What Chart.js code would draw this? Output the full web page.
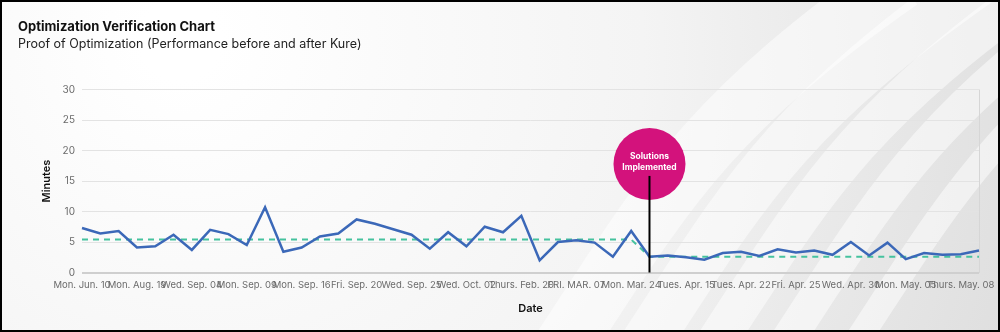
<!DOCTYPE html>
<html lang="en">
<head>
    <meta charset="UTF-8">
    <title>Optimization Verification Chart</title>
    <script src="https://cdn.jsdelivr.net/npm/chart.js"></script>
    <style>
        body {
            margin: 0;
            background-color: #ffffff;
        }
        #chartBox {
            width: 1000px;
            height: 332px;
        }
    </style>
</head>
<body>
<div id="chartBox">
    <canvas id="verificationChart" width="1000" height="332"></canvas>
</div>
<script>
    // Dates of each measurement (only every third one is shown on the axis)
    const dateLabels = [
        'Mon. Jun. 10', 'Mon. Jul. 08', 'Mon. Aug. 05',
        'Mon. Aug. 19', 'Mon. Aug. 26', 'Fri. Aug. 30',
        'Wed. Sep. 04', 'Thurs. Sep. 05', 'Fri. Sep. 06',
        'Mon. Sep. 09', 'Wed. Sep. 11', 'Fri. Sep. 13',
        'Mon. Sep. 16', 'Tues. Sep. 17', 'Wed. Sep. 18',
        'Fri. Sep. 20', 'Mon. Sep. 23', 'Tues. Sep. 24',
        'Wed. Sep. 25', 'Thurs. Sep. 26', 'Mon. Sep. 30',
        'Wed. Oct. 02', 'Thurs. Oct. 03', 'Mon. Feb. 17',
        'Thurs. Feb. 20', 'Tues. Feb. 25', 'Mon. Mar. 03',
        'FRI. MAR. 07', 'Mon. Mar. 10', 'Mon. Mar. 17',
        'Mon. Mar. 24', 'Tues. Apr. 01', 'Thurs. Apr. 10',
        'Tues. Apr. 15', 'Wed. Apr. 16', 'Fri. Apr. 18',
        'Tues. Apr. 22', 'Wed. Apr. 23', 'Thurs. Apr. 24',
        'Fri. Apr. 25', 'Mon. Apr. 28', 'Tues. Apr. 29',
        'Wed. Apr. 30', 'Thurs. May. 01', 'Fri. May. 02',
        'Mon. May. 05', 'Tues. May. 06', 'Wed. May. 07',
        'Thurs. May. 08', 'Fri. May. 09'
    ];

    // Measured minutes
    const minutes = [
        7.3, 6.4, 6.8, 4.1, 4.3, 6.2, 3.7, 7.0, 6.3, 4.5,
        10.7, 3.4, 4.1, 5.9, 6.4, 8.7, 8.0, 7.1, 6.2, 3.9,
        6.6, 4.3, 7.5, 6.6, 9.3, 2.0, 5.0, 5.3, 4.9, 2.6,
        6.8, 2.6, 2.8, 2.5, 2.1, 3.2, 3.4, 2.7, 3.8, 3.3,
        3.6, 2.9, 5.0, 2.8, 4.9, 2.2, 3.2, 2.9, 3.0, 3.6
    ];

    // Average before / after the fix
    const averageMinutes = [
        5.4, 5.4, 5.4, 5.4, 5.4, 5.4, 5.4, 5.4, 5.4, 5.4,
        5.4, 5.4, 5.4, 5.4, 5.4, 5.4, 5.4, 5.4, 5.4, 5.4,
        5.4, 5.4, 5.4, 5.4, 5.4, 5.4, 5.4, 5.4, 5.4, 5.4,
        5.4, 2.6, 2.6, 2.6, 2.6, 2.6, 2.6, 2.6, 2.6, 2.6,
        2.6, 2.6, 2.6, 2.6, 2.6, 2.6, 2.6, 2.6, 2.6, 2.6
    ];

    const yTicks = [0, 5, 10, 15, 20, 25, 30];

    // "Solutions Implemented" marker
    const markerIndex = 31;
    const markerValue = 17.8;
    const markerText = ['Solutions', 'Implemented'];

    Chart.defaults.font.family = "Inter, 'Noto Sans', sans-serif";

    const backgroundPlugin = {
        id: 'backgroundPlugin',
        beforeDraw(chart) {
            const c = chart.ctx;
            const w = chart.width, h = chart.height;
            c.save();
            let g = c.createRadialGradient(180, 40, 40, 260, 80, 900);
            g.addColorStop(0, '#ffffff');
            g.addColorStop(0.45, '#f4f4f4');
            g.addColorStop(1, '#d9d9d9');
            c.fillStyle = g;
            c.fillRect(0, 0, w, h);
            // light swooshes on the right side
            c.strokeStyle = 'rgba(255,255,255,0.5)';
            const swooshes = [[640, 60], [720, 50], [790, 40], [860, 34], [930, 26]];
            for (let s of swooshes) {
                c.lineWidth = s[1];
                c.beginPath();
                c.moveTo(s[0] - 80, h + 20);
                c.bezierCurveTo(s[0] + 20, 200, s[0] + 60, 120, s[0] + 260, -20);
                c.stroke();
            }
            c.restore();
        },
        afterDraw(chart) {
            const c = chart.ctx;
            c.save();
            c.strokeStyle = '#000000';
            c.lineWidth = 2;
            c.strokeRect(1, 1, chart.width - 2, chart.height - 2);
            c.restore();
        }
    };

    const markerPlugin = {
        id: 'markerPlugin',
        afterDatasetsDraw(chart) {
            const c = chart.ctx;
            const x = chart.scales.x.getPixelForValue(markerIndex);
            const cy = chart.scales.y.getPixelForValue(markerValue);
            c.save();
            c.fillStyle = '#d3127c';
            c.beginPath();
            c.arc(x, cy, 36, 0, Math.PI * 2);
            c.fill();
            c.strokeStyle = '#000000';
            c.lineWidth = 2;
            c.beginPath();
            c.moveTo(x, cy + 12);
            c.lineTo(x, chart.chartArea.bottom);
            c.stroke();
            c.fillStyle = '#ffffff';
            c.font = "bold 8.5px Inter, 'Noto Sans', sans-serif";
            c.textAlign = 'center';
            c.textBaseline = 'middle';
            c.fillText(markerText[0], x, cy - 7);
            c.fillText(markerText[1], x, cy + 4);
            c.restore();
        }
    };

    new Chart(document.getElementById('verificationChart'), {
        type: 'line',
        data: {
            labels: dateLabels,
            datasets: [
                {
                    label: 'Minutes',
                    data: minutes,
                    borderColor: '#3b68b8',
                    borderWidth: 2.5,
                    pointRadius: 0,
                    tension: 0
                },
                {
                    label: 'Average',
                    data: averageMinutes,
                    borderColor: '#45c29e',
                    borderWidth: 2,
                    borderDash: [6, 5],
                    pointRadius: 0,
                    tension: 0
                }
            ]
        },
        options: {
            responsive: false,
            animation: false,
            layout: {
                padding: {left: 18, right: 21, top: 0, bottom: 10}
            },
            plugins: {
                legend: {display: false},
                tooltip: {enabled: false},
                title: {
                    display: true,
                    text: 'Optimization Verification Chart',
                    align: 'start',
                    color: '#111111',
                    font: {size: 13, weight: 'bold', lineHeight: 1.2},
                    padding: {top: 19, bottom: 0}
                },
                subtitle: {
                    display: true,
                    text: 'Proof of Optimization (Performance before and after Kure)',
                    align: 'start',
                    color: '#222222',
                    font: {size: 12.5, weight: 'normal', lineHeight: 1.2},
                    padding: {top: 2.4, bottom: 37.5}
                }
            },
            scales: {
                x: {
                    border: {display: false},
                    grid: {
                        drawTicks: false,
                        color: c => c.index === dateLabels.length - 1 ? '#d6d6d6' : 'transparent'
                    },
                    ticks: {
                        autoSkip: false,
                        maxRotation: 0,
                        padding: 7,
                        color: '#6b6b6b',
                        font: {size: 9.5},
                        callback: function (value, index) {
                            return index % 3 === 0 ? this.getLabelForValue(value) : '';
                        }
                    },
                    title: {
                        display: true,
                        text: 'Date',
                        color: '#111111',
                        font: {size: 11, weight: '600'},
                        padding: {bottom: 7}
                    },
                    afterFit: s => { s.height = 49.5; }
                },
                y: {
                    min: 0,
                    max: 30,
                    border: {display: false},
                    grid: {
                        drawTicks: false,
                        color: c => c.tick.value === 0 ? '#cfcfcf' : '#e3e3e3',
                        lineWidth: c => c.tick.value === 0 ? 2 : 1
                    },
                    afterBuildTicks: s => { s.ticks = yTicks.map(v => ({value: v})); },
                    ticks: {
                        padding: 7,
                        color: '#6b6b6b',
                        font: {size: 10}
                    },
                    title: {
                        display: true,
                        text: 'Minutes',
                        color: '#111111',
                        font: {size: 11, weight: '600'},
                        padding: {top: 22}
                    },
                    afterFit: s => { s.width = 64; }
                }
            }
        },
        plugins: [backgroundPlugin, markerPlugin]
    });
</script>
</body>
</html>
